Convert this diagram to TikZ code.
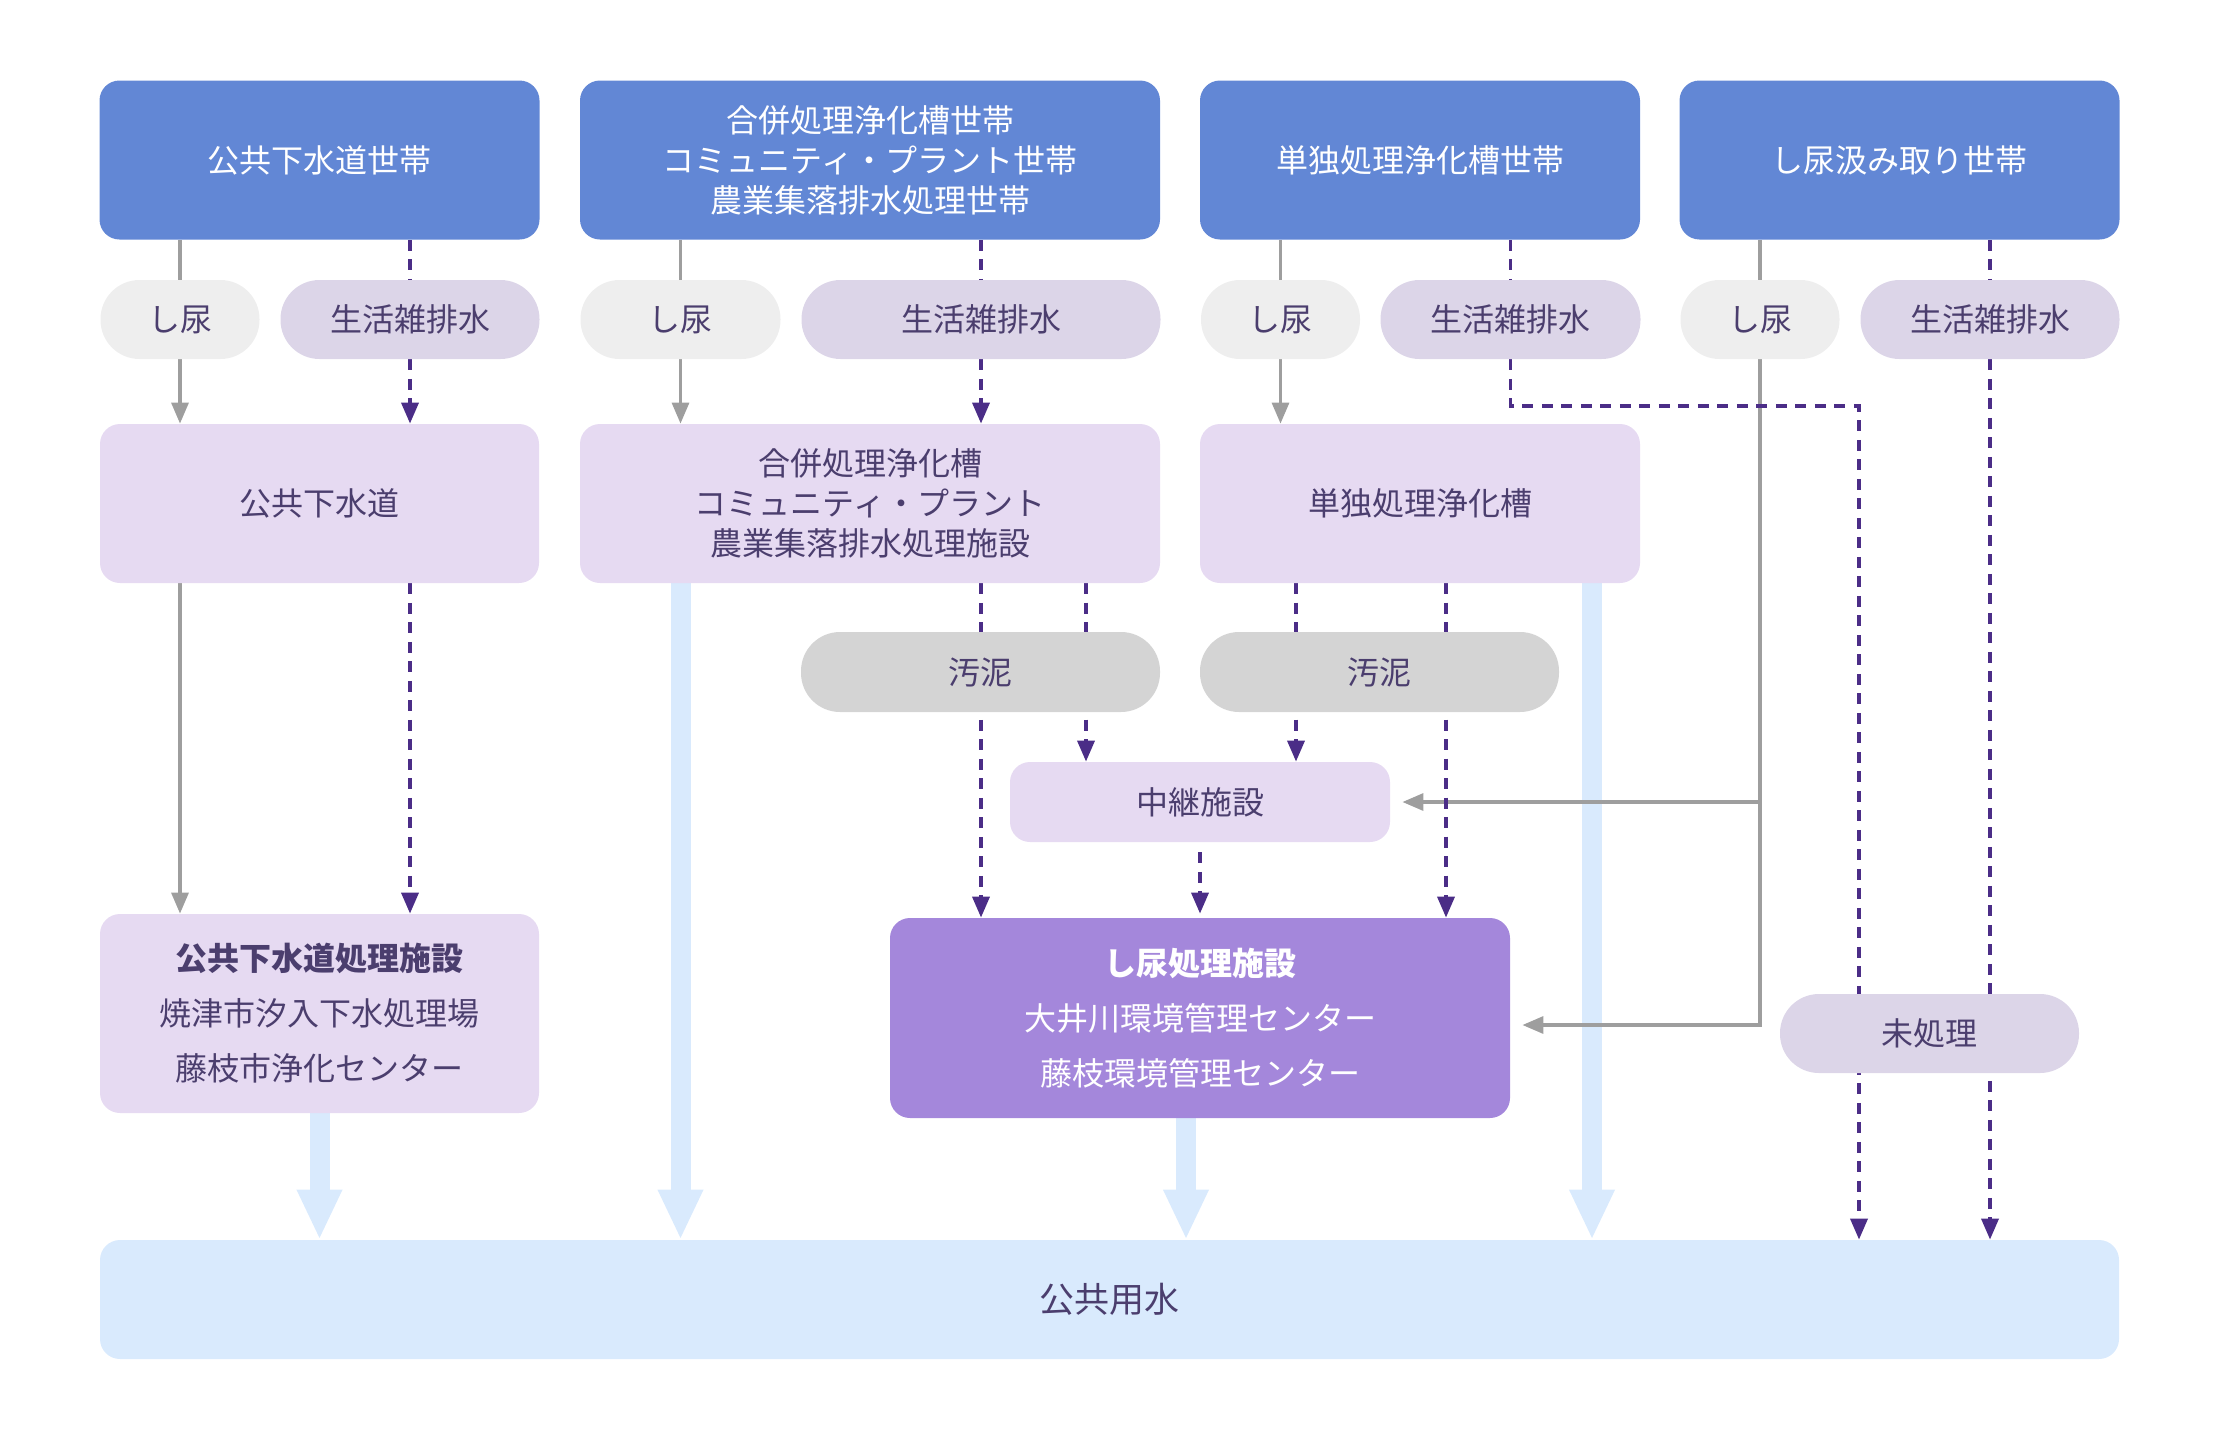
\documentclass[tikz,border=0pt]{standalone}
\usepackage{fontspec}
\newfontfamily\jpfont{Noto Sans CJK JP}
\usetikzlibrary{arrows.meta,positioning,calc}
\pgfdeclarelayer{bg}
\pgfsetlayers{bg,main}
\definecolor{hhblue}{HTML}{6287D5}
\definecolor{boxlilac}{HTML}{E6DAF2}
\definecolor{greylilac}{HTML}{DCD5E8}
\definecolor{soilgrey}{HTML}{EEEEEE}
\definecolor{sludgegrey}{HTML}{D4D4D4}
\definecolor{plantpurple}{HTML}{A487DB}
\definecolor{waterblue}{HTML}{D9EAFD}
\definecolor{flowpurple}{HTML}{4B2D87}
\definecolor{flowgrey}{HTML}{9E9E9E}
\definecolor{textpurple}{HTML}{4B3E6E}
\tikzset{
    box/.style={rounded corners=10pt, inner sep=0pt, align=center, text=textpurple, minimum height=79.5pt},
    household/.style={box, fill=hhblue, text=white},
    facility/.style={box, fill=boxlilac},
    plant text/.style={font=\jpfont\fontsize{16pt}{27.5pt}\selectfont, minimum height=100pt},
    pill/.style={rounded corners=19.5pt, inner sep=0pt, text=textpurple, minimum height=39.5pt},
    nightsoil/.style={pill, fill=soilgrey},
    greywater/.style={pill, fill=greylilac},
    sludge/.style={pill, fill=sludgegrey, minimum height=40pt},
    headed/.style={-{Triangle[width=8.5pt,length=10.5pt]}},
    soil line/.style={flowgrey, line width=1.6pt},
    water line/.style={flowpurple, line width=1.8pt, dash pattern=on 5.5pt off 4.25pt},
    outflow/.style={waterblue, line width=10pt, -{Triangle[width=21pt,length=25pt]}},
}
\tikzstyle{every node}=[font=\jpfont\fontsize{16pt}{20pt}\selectfont]

\begin{document}
\begin{tikzpicture}[x=0.5pt,y=-0.5pt]
    \useasboundingbox (0,0) rectangle (2220,1440);

    % households
    \node[household, minimum width=220pt] (hh1) at (319.5,160) {公共下水道世帯};
    \node[household, minimum width=290pt] (hh2) at (870,160) {合併処理浄化槽世帯\\コミュニティ・プラント世帯\\農業集落排水処理世帯};
    \node[household, minimum width=220pt] (hh3) at (1420,160) {単独処理浄化槽世帯};
    \node[household, minimum width=220pt] (hh4) at (1899.5,160) {し尿汲み取り世帯};

    \node[nightsoil, minimum width=79.5pt] (ns1) at (180,319.5) {し尿};
    \node[greywater, minimum width=129.5pt] (gw1) at (410,319.5) {生活雑排水};
    \node[nightsoil, minimum width=100pt] (ns2) at (680.5,319.5) {し尿};
    \node[greywater, minimum width=179.5pt] (gw2) at (981,319.5) {生活雑排水};
    \node[nightsoil, minimum width=79.5pt] (ns3) at (1280.5,319.5) {し尿};
    \node[greywater, minimum width=130pt] (gw3) at (1510.5,319.5) {生活雑排水};
    \node[nightsoil, minimum width=79.5pt] (ns4) at (1760,319.5) {し尿};
    \node[greywater, minimum width=129.5pt] (gw4) at (1990,319.5) {生活雑排水};

    % treatment on site
    \node[facility, minimum width=219.5pt] (sw1) at (319.5,503.5) {公共下水道};
    \node[facility, minimum width=290pt] (jk2) at (870,503.5) {合併処理浄化槽\\コミュニティ・プラント\\農業集落排水処理施設};
    \node[facility, minimum width=220pt] (tk3) at (1420,503.5) {単独処理浄化槽};

    \node[sludge, minimum width=179.5pt] (sl1) at (980.5,672) {汚泥};
    \node[sludge, minimum width=179.5pt] (sl2) at (1379.5,672) {汚泥};
    \node[facility, minimum width=190pt, minimum height=40pt] (relay) at (1200,802) {中継施設};

    % plants
    \node[facility, plant text, minimum width=219.5pt, minimum height=99.5pt] (pt1) at (319.5,1013.5)
        {{\bfseries 公共下水道処理施設}\\焼津市汐入下水処理場\\藤枝市浄化センター};
    \node[box, plant text, fill=plantpurple, text=white, minimum width=310pt] (nt) at (1200,1018)
        {{\bfseries し尿処理施設}\\大井川環境管理センター\\藤枝環境管理センター};
    \node[greywater, minimum width=149.5pt] (un) at (1929.5,1033.5) {未処理};

    \node[box, fill=waterblue, minimum width=1009.5pt, minimum height=59.5pt,
        font=\jpfont\fontsize{17.5pt}{21pt}\selectfont] (pw) at (1109.5,1299.5) {公共用水};

    \coordinate (SludgeA) at (1086,583);
    \coordinate (SludgeB) at (1296,583);
    \coordinate (SludgeC) at (1446,583);
    \coordinate (Bypass) at (1859,406);
    \coordinate (Tap) at (1760,1025);

    \begin{pgfonlayer}{bg}
        % discharge
        \draw[outflow] (pt1.south) -- (pt1.south |- pw.north);
        \draw[outflow] (ns2 |- jk2.south) -- (ns2 |- pw.north);
        \draw[outflow] ([xshift=-7pt]nt.south) -- ([xshift=-7pt]nt.south |- pw.north);
        \draw[outflow] ([xshift=86pt]tk3.south) -- ([xshift=86pt]tk3.south |- pw.north);

        % night soil
        \draw[soil line] (ns1 |- hh1.south) -- (ns1.north);
        \draw[soil line, headed] (ns1.south) -- (ns1 |- sw1.north);
        \draw[soil line, headed] (ns1 |- sw1.south) -- (ns1 |- pt1.north);
        \draw[soil line] (ns2 |- hh2.south) -- (ns2.north);
        \draw[soil line, headed] (ns2.south) -- (ns2 |- jk2.north);
        \draw[soil line] (ns3 |- hh3.south) -- (ns3.north);
        \draw[soil line, headed] (ns3.south) -- (ns3 |- tk3.north);
        \draw[soil line] (ns4 |- hh4.south) -- (ns4.north);
        \draw[soil line, headed, shorten >=6pt] (ns4.south) -- (Tap) -- (nt.east |- Tap);
        \draw[soil line, headed, shorten >=6pt] (ns4 |- relay.east) -- (relay.east);

        % grey water and sludge
        \draw[water line] (gw1 |- hh1.south) -- (gw1.north);
        \draw[water line, headed] (gw1.south) -- (gw1 |- sw1.north);
        \draw[water line, headed] (gw1 |- sw1.south) -- (gw1 |- pt1.north);
        \draw[water line] (gw2 |- hh2.south) -- (gw2.north);
        \draw[water line, headed] (gw2.south) -- (gw2 |- jk2.north);
        \draw[water line, headed] (gw2 |- jk2.south) -- (gw2 |- nt.north);
        \draw[water line, headed] (SludgeA) -- (SludgeA |- relay.north);
        \draw[water line] (gw3 |- hh3.south) -- (gw3.north);
        \draw[water line, headed] (gw3.south) -- (gw3.south |- Bypass) -- (Bypass) -- (Bypass |- pw.north);
        \draw[water line, headed] (SludgeB) -- (SludgeB |- relay.north);
        \draw[water line, headed] (SludgeC) -- (SludgeC |- nt.north);
        \draw[water line, headed, shorten <=5pt, shorten >=2pt] (relay.south) -- (relay.south |- nt.north);
        \draw[water line] (gw4 |- hh4.south) -- (gw4.north);
        \draw[water line, headed] (gw4.south) -- (gw4 |- pw.north);
    \end{pgfonlayer}
\end{tikzpicture}
\end{document}
